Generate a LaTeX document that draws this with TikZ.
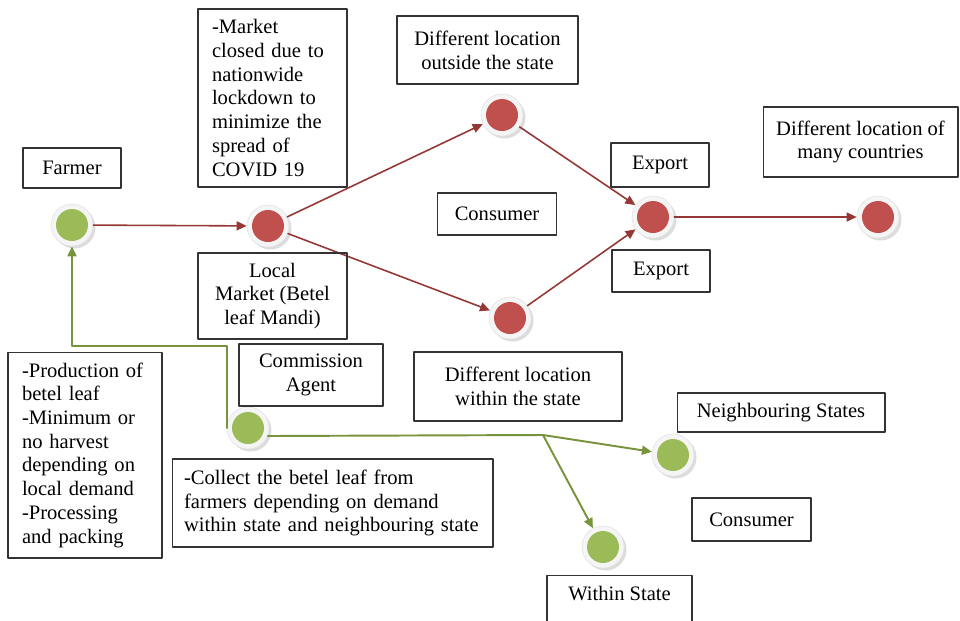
\documentclass[tikz,border=0pt]{standalone}
\usepackage{fontspec}
\setmainfont{Liberation Serif}
\usetikzlibrary{arrows.meta,shadows}
\definecolor{dotred}{HTML}{C0504D}
\definecolor{dotgreen}{HTML}{9BBB59}
\definecolor{linered}{HTML}{953735}
\definecolor{linegreen}{HTML}{77933C}

\begin{document}
\begin{tikzpicture}[x=0.02cm, y=-0.02cm, line cap=round, line join=round,
    font=\fontsize{11.7}{13.5}\selectfont,
    box/.style={draw=black!80, line width=0.6pt, inner sep=0pt, align=center},
    note/.style={draw=black!80, line width=0.6pt, inner xsep=0.28cm, inner ysep=0pt, align=left},
    dot/.style={circle, minimum size=0.84cm, inner sep=0pt, fill=gray!8, draw=gray!20, line width=0.4pt,
        drop shadow={shadow xshift=0.05cm, shadow yshift=-0.05cm, fill=gray!55, opacity=0.5},
        path picture={\fill[#1] (path picture bounding box.center) circle (0.32cm);}},
    redarrow/.style={draw=linered, line width=0.9pt, -{Triangle[length=0.2cm, width=0.18cm]}},
    greenline/.style={draw=linegreen, line width=1.1pt},
    greenarrow/.style={greenline, -{Triangle[length=0.2cm, width=0.18cm]}}]
    \useasboundingbox (0,0) rectangle (960,620);
    \clip (0,0) rectangle (960,620);

    % --- 1. Market chain (red) ---
    \node[dot=dotgreen] (farmer) at (72,225) {};
    \node[dot=dotred] (mandi) at (268,226) {};
    \node[dot=dotred] (outside) at (502,115) {};
    \node[dot=dotred] (within) at (510,318) {};
    \node[dot=dotred] (export) at (653,217) {};
    \node[dot=dotred] (abroad) at (878,217) {};

    \draw[redarrow] (farmer) -- (mandi);
    \draw[redarrow] (mandi) -- (outside);
    \draw[redarrow] (mandi) -- (within);
    \draw[redarrow] (outside) -- (export);
    \draw[redarrow] (within) -- (export);
    \draw[redarrow] (export) -- (abroad);

    % --- 2. Commission agent chain (green) ---
    \node[dot=dotgreen] (agent) at (248,428) {};
    \node[dot=dotgreen] (neighbour) at (673,455) {};
    \node[dot=dotgreen] (withinstate) at (603,547) {};
    \coordinate (bend) at (72,346);
    \coordinate (fork) at (543,435);

    \draw[greenarrow] (agent.west) |- (bend) -- (farmer);
    \draw[greenline] (agent.-22) -- (fork);
    \draw[greenarrow] (fork) -- (neighbour);
    \draw[greenarrow] (fork) -- (withinstate);

    % --- 3. Labels ---
    \node[box, minimum width=1.96cm, minimum height=0.8cm] (farmerbox) at (72,168) {Farmer};
    \node[note, text width=2.42cm, minimum height=3.56cm] (closedbox) at (272.5,98)
        {-Market\\closed due to\\nationwide\\lockdown to\\minimize the\\spread of\\COVID 19};
    \node[box, minimum width=3.62cm, minimum height=1.36cm] (outsidebox) at (487.5,50)
        {Different location\\outside the state};
    \node[box, minimum width=2.38cm, minimum height=0.84cm] (consumerbox) at (497,214) {Consumer};
    \node[box, minimum width=1.96cm, minimum height=0.88cm] (exportbox) at (660,165) {Export};
    \node[box, minimum width=1.96cm, minimum height=0.84cm] (exportboxb) at (661,271) {Export};
    \node[box, minimum width=3.9cm, minimum height=1.4cm] (abroadbox) at (860.5,142)
        {Different location of\\many countries};
    \node[box, minimum width=2.98cm, minimum height=1.72cm] (mandibox) at (272.5,296)
        {Local\\Market (Betel\\leaf Mandi)};
    \node[box, minimum width=4.16cm, minimum height=1.38cm] (withinbox) at (518,386.5)
        {Different location\\within the state};
    \node[box, minimum width=2.88cm, minimum height=1.24cm] (agentbox) at (311,375)
        {Commission\\Agent};
    \node[note, text width=2.52cm, minimum height=4.12cm] (productionbox) at (85,455)
        {-Production of\\betel leaf\\-Minimum or\\no harvest\\depending on\\local demand\\-Processing\\and packing};
    \node[note, inner xsep=0.24cm, text width=5.94cm, minimum height=1.76cm] (collectbox) at (332.5,503)
        {-Collect the betel leaf from\\farmers depending on demand\\within state and neighbouring state};
    \node[box, minimum width=4.16cm, minimum height=0.78cm] (neighbourbox) at (781,412.5) {Neighbouring States};
    \node[box, minimum width=2.38cm, minimum height=0.86cm] (consumerboxb) at (751.5,519.5) {Consumer};
    \node[box, anchor=north, minimum width=2.9cm, inner ysep=0.2cm, text height=0.3cm, text depth=1cm]
        (withinstatebox) at (619.5,575) {Within State};
\end{tikzpicture}
\end{document}
